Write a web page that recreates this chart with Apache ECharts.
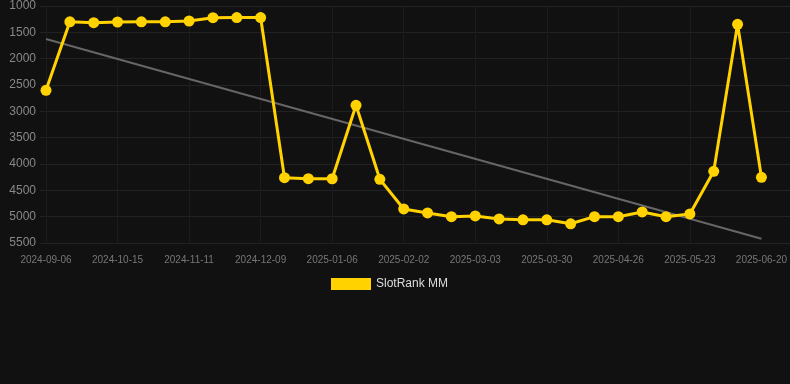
<!DOCTYPE html>
<html><head><meta charset="utf-8">
<script src="https://cdn.jsdelivr.net/npm/echarts@6/dist/echarts.min.js"></script>
<style>html,body{margin:0;padding:0;background:#111111;}#c{width:790px;height:384px;}</style>
</head><body><div id="c"></div>
<script>
var categories = ['2024-09-06','2024-09-19','2024-10-02','2024-10-15','2024-10-24','2024-11-02','2024-11-11','2024-11-20','2024-11-30','2024-12-09','2024-12-18','2024-12-27','2025-01-06','2025-01-15','2025-01-24','2025-02-02','2025-02-12','2025-02-21','2025-03-03','2025-03-12','2025-03-21','2025-03-30','2025-04-08','2025-04-17','2025-04-26','2025-05-05','2025-05-14','2025-05-23','2025-06-01','2025-06-10','2025-06-20'];
var rankValues = [2600,1300,1317,1304,1300,1300,1285,1222,1220,1220,4260,4279,4280,2886,4291,4854,4930,5000,4987,5044,5060,5060,5135,5000,5000,4911,5000,4949,4139,1348,4253];
var trendStart = 1627;
var trendEnd = 5418;
var trendValues = [];
for (var i = 0; i < categories.length; i++) {
  trendValues.push(i === 0 ? trendStart : (i === categories.length - 1 ? trendEnd : null));
}
var chart = echarts.init(document.getElementById('c'));
chart.setOption({
  backgroundColor: '#111111',
  animation: false,
  grid: [
    {left: 46, right: 28, top: 6, bottom: 141},
    {left: 40, right: 0, top: 6, bottom: 141}
  ],
  legend: {
    top: 278, left: 331, icon: 'rect', itemWidth: 40, itemHeight: 12,
    padding: 0,
    textStyle: {color: '#dddddd', fontSize: 12},
    data: ['SlotRank MM']
  },
  xAxis: [
    {
      type: 'category', data: categories, boundaryGap: false, gridIndex: 0,
      axisLine: {show: false}, axisTick: {show: false},
      axisLabel: {color: '#777777', fontSize: 10, interval: 2, margin: 12},
      splitLine: {show: true, interval: function (idx) { return idx % 3 === 0 && idx < categories.length - 1; }, lineStyle: {color: '#1c1c1c'}}
    },
    {
      type: 'value', gridIndex: 1, show: false, min: 0, max: 1
    }
  ],
  yAxis: [
    {
      type: 'value', inverse: true, min: 1000, max: 5500, interval: 500, gridIndex: 0,
      axisLine: {show: false}, axisTick: {show: false},
      axisLabel: {color: '#888888', fontSize: 12, margin: 10, formatter: function (v) { return String(v); }},
      splitLine: {show: false}
    },
    {
      type: 'value', inverse: true, min: 1000, max: 5500, interval: 500, gridIndex: 1,
      axisLine: {show: false}, axisTick: {show: false}, axisLabel: {show: false},
      splitLine: {lineStyle: {color: '#222222'}}
    }
  ],
  series: [
    {
      name: 'Trend', type: 'line', data: trendValues, connectNulls: true,
      xAxisIndex: 0, yAxisIndex: 0,
      symbol: 'none', lineStyle: {color: '#666666', width: 2}, z: 1
    },
    {
      name: 'SlotRank MM', type: 'line', data: rankValues,
      xAxisIndex: 0, yAxisIndex: 0,
      symbol: 'circle', symbolSize: 11,
      itemStyle: {color: '#ffd200'},
      lineStyle: {color: '#ffd200', width: 3}, z: 2
    }
  ]
});
</script></body></html>
